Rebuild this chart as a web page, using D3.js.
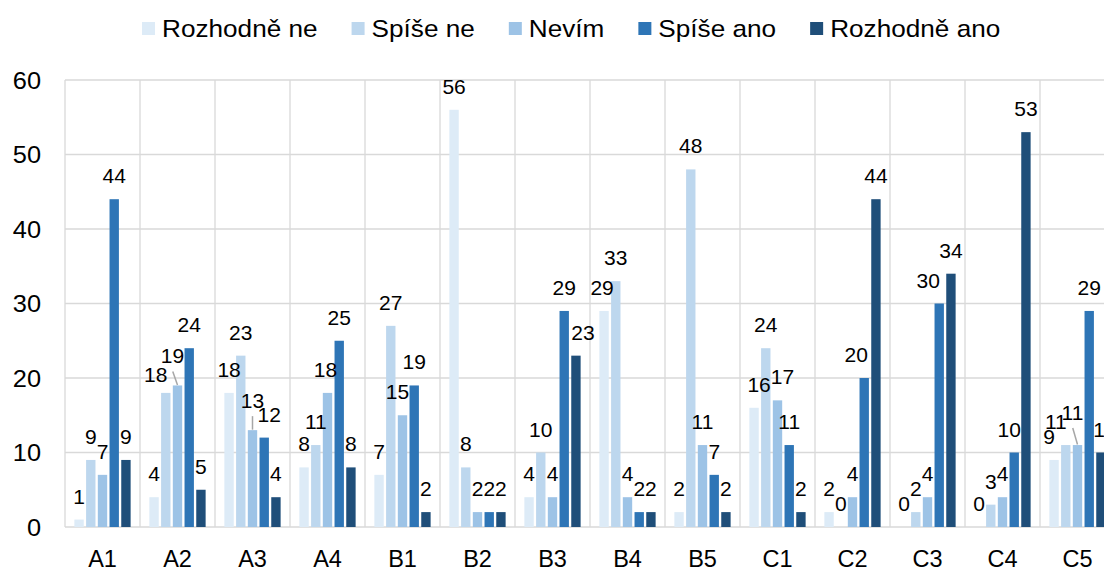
<!DOCTYPE html>
<html>
<head>
<meta charset="utf-8">
<script src="https://cdn.jsdelivr.net/npm/d3@7"></script>
<style>
  html, body { margin: 0; padding: 0; background: #fff; overflow: hidden; }
  svg { display: block; }
  text { font-family: "Liberation Sans", Arial, sans-serif; fill: #000; }
</style>
</head>
<body>
<svg id="chart" width="1104" height="568"></svg>
<script>
// ---- data ----
const categories = ["A1","A2","A3","A4","B1","B2","B3","B4","B5","C1","C2","C3","C4","C5"];
const seriesNames = ["Rozhodně ne","Spíše ne","Nevím","Spíše ano","Rozhodně ano"];
const rozhodneNe  = [1, 4, 18, 8, 7, 56, 4, 29, 2, 16, 2, 0, 0, 9];
const spiseNe     = [9, 18, 23, 11, 27, 8, 10, 33, 48, 24, 0, 2, 3, 11];
const nevim       = [7, 19, 13, 18, 15, 2, 4, 4, 11, 17, 4, 4, 4, 11];
const spiseAno    = [44, 24, 12, 25, 19, 2, 29, 2, 7, 11, 20, 30, 10, 29];
const rozhodneAno = [9, 5, 4, 8, 2, 2, 23, 2, 2, 2, 44, 34, 53, 10];
const yTickValues = [0, 10, 20, 30, 40, 50, 60];
const seriesValues = [rozhodneNe, spiseNe, nevim, spiseAno, rozhodneAno];

// ---- style ----
const colors = ["#ddebf7", "#bdd7ee", "#9dc3e6", "#2e75b6", "#1f4e79"];
const gridColor = "#d9d9d9";
// label nudges (offsets from default label spot, like the original's de-overlapping)
const labelNudges = [
  {cat: "A2", s: 1, dx: -10, dy: 5},
  {cat: "A2", s: 2, dx: -5, dy: -6, leader: true},
  {cat: "A3", s: 2, dx: 0, dy: -6, leader: true},
  {cat: "A3", s: 3, dx: 5, dy: 0},
  {cat: "A4", s: 2, dx: -2, dy: 0},
  {cat: "B1", s: 2, dx: -5, dy: 0},
  {cat: "B3", s: 4, dx: 7, dy: 0},
  {cat: "B4", s: 0, dx: -2, dy: 0},
  {cat: "C1", s: 0, dx: 5, dy: 0},
  {cat: "C1", s: 2, dx: 5, dy: 0},
  {cat: "C2", s: 3, dx: -8, dy: 0},
  {cat: "C3", s: 3, dx: -11, dy: 0},
  {cat: "C4", s: 3, dx: -5, dy: 0},
  {cat: "C5", s: 0, dx: -5, dy: 0},
  {cat: "C5", s: 1, dx: -10, dy: 0},
  {cat: "C5", s: 2, dx: -5, dy: -9, leader: true},
  {cat: "C5", s: 4, dx: 4, dy: 0}
];

const svg = d3.select("#chart");
const plotLeft = 65, plotTop = 80, plotBottom = 527, groupStep = 75;
const plotRight = plotLeft + groupStep * categories.length;

const x0 = d3.scaleBand().domain(categories).range([plotLeft, plotRight])
  .paddingInner(0.25).paddingOuter(0.125);
const x1 = d3.scaleBand().domain(seriesNames).range([0, x0.bandwidth()]).paddingInner(0.2);
const y = d3.scaleLinear().domain([0, 60]).range([plotBottom, plotTop]);

// horizontal gridlines
svg.append("g").selectAll("line").data(yTickValues).join("line")
  .attr("x1", plotLeft).attr("x2", plotRight)
  .attr("y1", d => y(d)).attr("y2", d => y(d))
  .attr("stroke", gridColor).attr("stroke-width", 1.3);

// vertical category separators
const half = (x0.step() - x0.bandwidth()) / 2;
const bounds = categories.map(c => x0(c) - half).concat([x0(categories[categories.length - 1]) + x0.bandwidth() + half]);
svg.append("g").selectAll("line").data(bounds).join("line")
  .attr("x1", d => d).attr("x2", d => d)
  .attr("y1", plotTop).attr("y2", plotBottom)
  .attr("stroke", gridColor).attr("stroke-width", 1.3);

// y tick labels
const yAxis = d3.axisLeft(y).tickValues(yTickValues).tickSize(0).tickPadding(0);
const yg = svg.append("g").attr("transform", `translate(${plotLeft - 24},0)`).call(yAxis);
yg.select(".domain").remove();
yg.selectAll("text").attr("font-size", 23.5).attr("fill", "#000")
  .attr("font-family", '"Liberation Sans", Arial, sans-serif')
  .attr("dy", "0.35em")
  .each(function() {
    const t = d3.select(this);
    t.attr("transform", `translate(${t.attr("x") || 0},0) scale(1.08,1)`).attr("x", 0);
  });

// x category labels
const xAxis = d3.axisBottom(x0).tickSize(0).tickPadding(0);
const xg = svg.append("g").attr("transform", `translate(0,${plotBottom})`).call(xAxis);
xg.select(".domain").remove();
xg.selectAll("text").attr("font-size", 23.5).attr("fill", "#000")
  .attr("font-family", '"Liberation Sans", Arial, sans-serif')
  .attr("y", 39.5).attr("dy", 0);

// bars
const rows = [];
categories.forEach((c, i) => seriesNames.forEach((s, j) => rows.push({cat: c, s: j, name: s, v: seriesValues[j][i]})));
svg.append("g").selectAll("rect").data(rows).join("rect")
  .attr("x", d => x0(d.cat) + x1(d.name))
  .attr("y", d => y(d.v))
  .attr("width", x1.bandwidth())
  .attr("height", d => y(0) - y(d.v))
  .attr("fill", d => colors[d.s]);

// labels
const lg = svg.append("g");
rows.forEach(d => {
  const n = labelNudges.find(k => k.cat === d.cat && k.s === d.s) || {dx: 0, dy: 0};
  const bx = x0(d.cat) + x1(d.name) + x1.bandwidth() / 2;
  const by = y(d.v);
  const lx = bx + n.dx, ly = by - 16 + n.dy;
  if (n.leader) {
    lg.append("line").attr("x1", lx + (bx - lx) * 0.05).attr("y1", ly + 8)
      .attr("x2", bx).attr("y2", by - 0.5)
      .attr("stroke", "#a6a6a6").attr("stroke-width", 1.5);
  }
  lg.append("text").attr("x", lx).attr("y", ly).attr("text-anchor", "middle")
    .attr("font-size", 21).text(d.v);
});

// legend
const leg = svg.append("g");
let lx = 142;
seriesNames.forEach((s, j) => {
  leg.append("rect").attr("x", lx).attr("y", 22).attr("width", 13).attr("height", 13).attr("fill", colors[j]);
  const t = leg.append("text").attr("font-size", 24).text(s)
    .attr("transform", `translate(${lx + 20},37.3) scale(1.09,1)`);
  const w = t.node().getComputedTextLength() * 1.09;
  lx += 20 + w + 34;
});
</script>
</body>
</html>
